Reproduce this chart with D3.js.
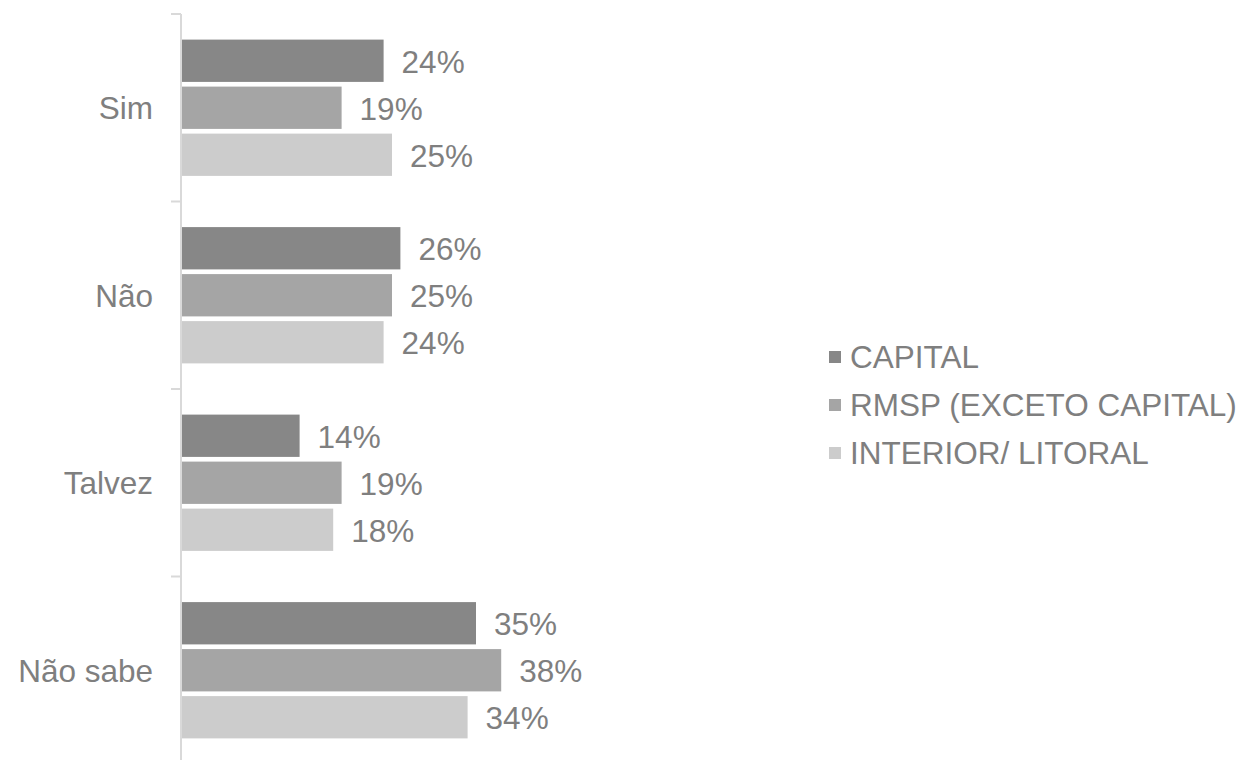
<!DOCTYPE html>
<html>
<head>
<meta charset="utf-8">
<script src="https://cdn.jsdelivr.net/npm/d3@7"></script>
<style>
  html, body { margin: 0; padding: 0; background: #ffffff; }
  svg { display: block; font-family: "Liberation Sans", Arial, sans-serif; }
</style>
</head>
<body>
<svg id="chart" width="1248" height="760"></svg>
<script>
// Response categories (top to bottom)
const categories = ["Sim", "Não", "Talvez", "Não sabe"];
// Regions, in drawing order within each group
const series = ["CAPITAL", "RMSP (EXCETO CAPITAL)", "INTERIOR/ LITORAL"];
// Percentages per region, aligned with categories
const capital = [24, 26, 14, 35];
const rmsp = [19, 25, 19, 38];
const interior = [25, 24, 18, 34];
const seriesColors = ["#878787", "#a5a5a5", "#cccccc"];

const values = [capital, rmsp, interior];
const rows = categories.flatMap((c, i) =>
  series.map((s, j) => ({ category: c, series: s, value: values[j][i], color: seriesColors[j] })));

const svg = d3.select("#chart");
const textColor = "#7f7f7f";
const fontSize = 31.5;

// Scales
const x = d3.scaleLinear().domain([0, 40]).range([182, 182 + 8.4 * 40]);
const y = d3.scaleBand().domain(categories).range([14, 764]).padding(0);
const groupH = 136.3;
const ySeries = d3.scaleBand().domain(series)
  .range([(y.bandwidth() - groupH) / 2, (y.bandwidth() + groupH) / 2])
  .paddingInner(0.1).paddingOuter(0);

// Vertical category axis with outward ticks at band boundaries
const axisX = 181;
const axisG = svg.append("g");
axisG.append("line")
  .attr("x1", axisX).attr("x2", axisX)
  .attr("y1", y.range()[0]).attr("y2", y.range()[1])
  .attr("stroke", "#d9d9d9").attr("stroke-width", 2);
const boundaries = categories.map(c => y(c)).concat([y.range()[1]]);
axisG.selectAll("line.tick").data(boundaries).join("line")
  .attr("class", "tick")
  .attr("x1", axisX - 10).attr("x2", axisX)
  .attr("y1", d => d).attr("y2", d => d)
  .attr("stroke", "#d9d9d9").attr("stroke-width", 2);

// Category labels
svg.append("g").selectAll("text").data(categories).join("text")
  .attr("x", axisX - 28)
  .attr("y", d => y(d) + y.bandwidth() / 2)
  .attr("dy", "0.36em")
  .attr("text-anchor", "end")
  .attr("font-size", fontSize)
  .attr("fill", textColor)
  .text(d => d);

// Bars
const bars = svg.append("g");
bars.selectAll("rect").data(rows).join("rect")
  .attr("x", x(0))
  .attr("y", d => y(d.category) + ySeries(d.series))
  .attr("width", d => x(d.value) - x(0))
  .attr("height", ySeries.bandwidth())
  .attr("fill", d => d.color);

// Value labels
svg.append("g").selectAll("text").data(rows).join("text")
  .attr("x", d => x(d.value) + 18)
  .attr("y", d => y(d.category) + ySeries(d.series) + ySeries.bandwidth() / 2)
  .attr("dy", "0.38em")
  .attr("font-size", fontSize)
  .attr("fill", textColor)
  .text(d => d.value + "%");

// Legend
const legend = svg.append("g").attr("transform", "translate(829,357)");
const item = legend.selectAll("g").data(series).join("g")
  .attr("transform", (d, i) => `translate(0,${i * 48})`);
item.append("rect")
  .attr("x", 0).attr("y", -6)
  .attr("width", 12).attr("height", 12)
  .attr("fill", (d, i) => seriesColors[i]);
item.append("text")
  .attr("x", 21).attr("y", 0)
  .attr("dy", "0.36em")
  .attr("font-size", fontSize)
  .attr("fill", textColor)
  .text(d => d);
</script>
</body>
</html>
